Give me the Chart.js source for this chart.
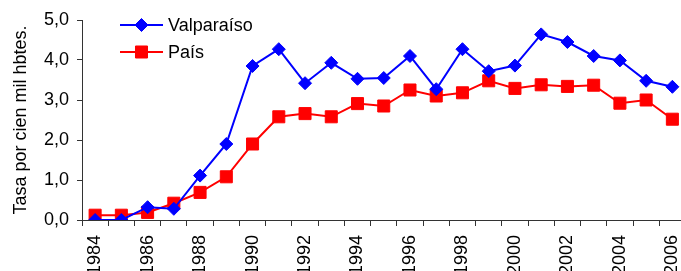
<!DOCTYPE html>
<html>
<head>
<meta charset="utf-8">
<script src="https://cdn.jsdelivr.net/npm/chart.js@4"></script>
<style>
  html, body { margin: 0; padding: 0; background: #fff; overflow: hidden; }
  #wrap { width: 695px; height: 271px; }
</style>
</head>
<body>
<div id="wrap"><canvas id="chart" width="695" height="271"></canvas></div>
<script>
// Data
const years = ['1984', '1985', '1986', '1987', '1988', '1989', '1990', '1991', '1992', '1993', '1994', '1995',
  '1996', '1997', '1998', '1999', '2000', '2001', '2002', '2003', '2004', '2005', '2006'];
const valparaiso = [0.0, 0.0, 0.32, 0.28, 1.11, 1.90, 3.85, 4.27, 3.42, 3.93, 3.53, 3.55,
  4.10, 3.27, 4.27, 3.72, 3.86, 4.64, 4.45, 4.10, 3.99, 3.48, 3.33];
const pais = [0.12, 0.12, 0.19, 0.42, 0.69, 1.08, 1.90, 2.58, 2.66, 2.58, 2.91, 2.85,
  3.25, 3.10, 3.18, 3.48, 3.29, 3.38, 3.34, 3.37, 2.92, 3.00, 2.52];
const yTicks = [0, 1, 2, 3, 4, 5];
const yTitle = 'Tasa por cien mil hbtes.';

const FONT = 'Liberation Sans, Arial, sans-serif';
const AXIS = '#333';

Chart.defaults.font.family = FONT;
Chart.defaults.font.size = 18;
Chart.defaults.color = '#000';

// ─── Legend drawn inside the plot (line + marker) ────────────────────────────
const insideLegend = {
  id: 'insideLegend',
  afterDatasetsDraw(chart) {
    const { ctx, chartArea } = chart;
    const x0 = chartArea.left + 38;
    const x1 = chartArea.left + 81;
    ctx.save();
    chart.data.datasets.forEach((ds, i) => {
      const y = chartArea.top + 5 + i * 27;
      ctx.strokeStyle = ds.borderColor;
      ctx.lineWidth = ds.borderWidth;
      ctx.beginPath();
      ctx.moveTo(x0, y);
      ctx.lineTo(x1, y);
      ctx.stroke();
      ctx.fillStyle = ds.pointBackgroundColor;
      ctx.strokeStyle = ds.pointBorderColor;
      ctx.lineWidth = ds.pointBorderWidth;
      Chart.helpers.drawPoint(ctx, { pointStyle: ds.pointStyle, radius: ds.pointRadius, rotation: 0, borderWidth: ds.pointBorderWidth }, (x0 + x1) / 2, y);
      ctx.fillStyle = '#000';
      ctx.font = '18px ' + FONT;
      ctx.textAlign = 'left';
      ctx.textBaseline = 'middle';
      ctx.fillText(ds.label, x1 + 5, y + 1);
    });
    ctx.restore();
  }
};

new Chart(document.getElementById('chart'), {
  type: 'line',
  data: {
    labels: years,
    datasets: [
      { label: 'Valparaíso', data: valparaiso, borderColor: '#0000ff', borderWidth: 2,
        pointStyle: 'rectRot', pointRadius: 6.5, pointBackgroundColor: '#0000ff',
        pointBorderColor: '#0000ff', pointBorderWidth: 1, tension: 0 },
      { label: 'País', data: pais, borderColor: '#ff0000', borderWidth: 2,
        pointStyle: 'rect', pointRadius: 8.5, pointBackgroundColor: '#ff0000',
        pointBorderColor: '#ff0000', pointBorderWidth: 1, tension: 0 },
    ],
  },
  options: {
    responsive: false,
    animation: false,
    devicePixelRatio: 1,
    layout: { padding: { top: 20, right: 5, left: 0, bottom: 0 } },
    plugins: { legend: { display: false }, tooltip: { enabled: false } },
    scales: {
      x: {
        offset: true,
        grid: { display: true, offset: true, drawOnChartArea: false, drawTicks: true, tickLength: 6, color: AXIS, lineWidth: 1 },
        border: { display: true, color: AXIS, width: 1 },
        ticks: {
          autoSkip: false, maxRotation: 90, minRotation: 90, padding: 9,
          callback: (v, i) => (i % 2 === 0 ? years[i] : ''),
        },
        afterFit: (s) => { s.height = 51; s.paddingLeft = 0; s.paddingRight = 0; },
      },
      y: {
        min: 0, max: 5,
        afterBuildTicks: (s) => { s.ticks = yTicks.map(v => ({ value: v })); },
        grid: { display: true, drawOnChartArea: false, drawTicks: true, tickLength: 5, color: AXIS },
        border: { display: true, color: AXIS, width: 1 },
        ticks: { padding: 8, callback: (v) => v.toFixed(1).replace('.', ',') },
        title: { display: true, text: yTitle, padding: { top: 10, bottom: 0 } },
        afterFit: (s) => { s.width = 82; s.paddingTop = 0; s.paddingBottom = 0; },
      },
    },
  },
  plugins: [insideLegend],
});
</script>
</body>
</html>
